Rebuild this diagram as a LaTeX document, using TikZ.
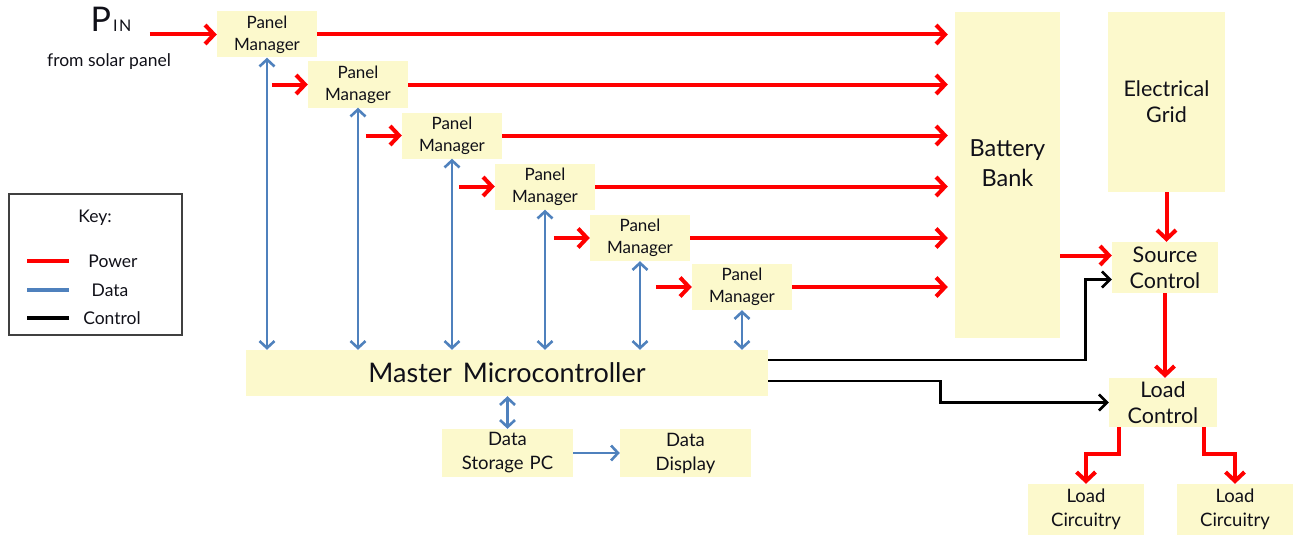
\documentclass[tikz,border=0pt]{standalone}
\usepackage{fontspec}
\setmainfont{Lato}
\usetikzlibrary{arrows.meta}
\definecolor{boxfill}{HTML}{FCF9CC}
\definecolor{pwr}{HTML}{FF0000}
\definecolor{dat}{HTML}{4F81BD}
\definecolor{ink}{HTML}{101018}
\newcommand{\fs}[2]{\fontsize{#1}{#2}\selectfont}
\begin{document}
\begin{tikzpicture}[x=1pt,y=-1pt,
  box/.style={fill=boxfill, draw=none, inner sep=0pt, align=center, text=ink},
  pm/.style={box, minimum width=100pt, minimum height=46pt, font=\fs{17}{22}},
  power/.style={draw=pwr, line width=4pt, -{Straight Barb[length=9pt,width=19pt]}},
  data/.style={draw=dat, line width=2.6pt, {Straight Barb[length=7pt,width=15pt]}-{Straight Barb[length=7pt,width=15pt]}},
  dataone/.style={draw=dat, line width=2.6pt, -{Straight Barb[length=7pt,width=15pt]}},
  ctrl/.style={draw=black, line width=2.6pt, -{Straight Barb[length=8pt,width=16pt]}},
  keyline/.style={line width=4pt},
  lbl/.style={inner sep=0pt, text=ink},
]
\useasboundingbox (0,0) rectangle (1297,535);

% solar input label
\node[lbl, anchor=base] (pin) at (111,32) {\fs{34}{34}P\hspace{2pt}{\fs{16}{16}I\hspace{1.5pt}N}};
\node[lbl, font=\fs{17.5}{20}] (pinsub) at (109,62) {from solar panel};

% panel managers
\node[pm] (pm1) at (267,34.5) {Panel\\Manager};
\node[pm] (pm2) at (358,84.5) {Panel\\Manager};
\node[pm] (pm3) at (452,135.5) {Panel\\Manager};
\node[pm] (pm4) at (545,186.5) {Panel\\Manager};
\node[pm] (pm5) at (640,238) {Panel\\Manager};
\node[pm] (pm6) at (742,287) {Panel\\Manager};
\coordinate (pinsrc) at ([xshift=-67pt]pm1.west);

% storage and grid
\node[box, minimum width=105pt, minimum height=326pt] (bat) at (1007.5,175) {};
\node[lbl, align=center, font=\fs{23.5}{30}] (batlbl) at (1007.5,163) {Battery\\Bank};
\node[box, minimum width=117pt, minimum height=180pt, font=\fs{21.5}{26}] (grid) at (1166.5,102) {Electrical\\Grid};
\node[box, minimum width=106pt, minimum height=51pt, font=\fs{21.5}{26}] (src) at (1165,267.5) {Source\\Control};
\node[box, minimum width=108pt, minimum height=49pt, font=\fs{21.5}{26}] (ldc) at (1163,402.5) {Load\\Control};
\node[box, minimum width=116pt, minimum height=51pt, font=\fs{18.5}{24}] (lc1) at (1086,509.5) {Load\\Circuitry};
\node[box, minimum width=116pt, minimum height=51pt, font=\fs{18.5}{24}] (lc2) at (1235,509.5) {Load\\Circuitry};

% controller and data path
\node[box, minimum width=522pt, minimum height=46pt, font=\fs{27}{30}] (mc) at (507,373) {Master\hspace{4pt} Microcontroller};
\node[box, minimum width=131pt, minimum height=48pt, font=\fs{18.5}{24}] (store) at (507.5,453) {Data\\Storage\hspace{6pt}PC};
\node[box, minimum width=131pt, minimum height=48pt, font=\fs{18.5}{24}] (disp) at (685.5,453) {Data\\Display};

% power flow
\draw[power] (pinsrc) -- (pm1.west);
\foreach \i in {2,...,6} {
  \coordinate (in\i) at ([xshift=-36pt]pm\i.west);
  \draw[power] (in\i) -- (pm\i.west);
}
\foreach \i in {1,...,6} {
  \draw[power, shorten >=7pt] (pm\i.east) -- (pm\i.east -| bat.west);
  \draw[data] (pm\i.south) -- (pm\i.south |- mc.north);
}
\coordinate (srcin) at ([yshift=12pt]src.west);
\draw[power] (bat.east |- srcin) -- (srcin);
\draw[power] (grid.south) -- (grid.south |- src.north);
\draw[power] (src.south) -- (src.south |- ldc.north);
\draw[power] ([xshift=-44pt]ldc.south) -- ++(0,27) -| (lc1.north);
\draw[power] ([xshift=41pt]ldc.south) -- ++(0,27) -| (lc2.north);

% control lines
\coordinate (srcctl) at ([yshift=-12pt]src.west);
\draw[ctrl] ([yshift=13pt]mc.east) -- ++(317,0) |- (srcctl);
\draw[ctrl] ([yshift=-8pt]mc.east) -- ++(172,0) |- (ldc.west);

% data lines
\draw[data] (mc.south -| store.north) -- (store.north);
\draw[dataone] (store.east) -- (disp.west);

% key
\node[draw=black!75, line width=1.4pt, minimum width=173pt, minimum height=141pt, inner sep=0pt] (key) at (95.5,264.5) {};
\node[lbl, font=\fs{17.5}{20}] (keyt) at (95,218) {Key:};
\node[lbl, font=\fs{17.5}{20}] (kp) at (113,261) {Power};
\node[lbl, font=\fs{17.5}{20}] (kd) at (110,290) {Data};
\node[lbl, font=\fs{17.5}{20}] (kc) at (112,318) {Control};
\draw[keyline, pwr] (27,261) -- (69,261);
\draw[keyline, dat] (27,290) -- (69,290);
\draw[keyline, black] (27,318) -- (69,318);
\end{tikzpicture}
\end{document}
